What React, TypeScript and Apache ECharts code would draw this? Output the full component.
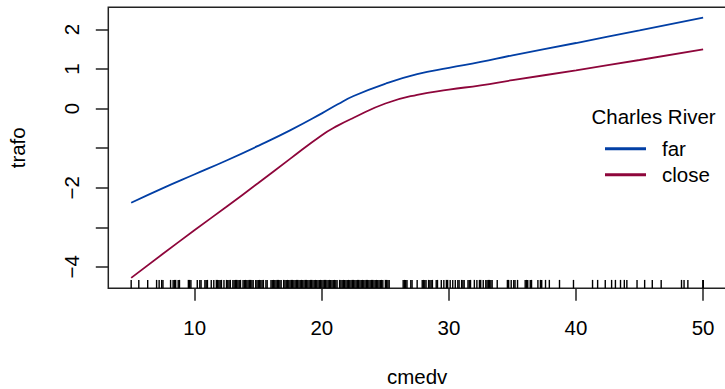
import React, { useEffect, useRef } from "react";
import * as echarts from "echarts";

// cmedv grid where the fitted transformation is evaluated
const xGrid = [5, 7.5, 10, 12.5, 15, 17.5, 20, 21.25, 22.5, 25, 27.5, 30, 32.5, 35, 40, 45, 50];
// trafo for Charles River = far
const farValues = [-2.38, -2.01, -1.66, -1.31, -0.94, -0.55, -0.12, 0.11, 0.32, 0.63, 0.87, 1.03, 1.18, 1.35, 1.66, 1.98, 2.3];
// trafo for Charles River = close
const closeValues = [-4.28, -3.67, -3.07, -2.48, -1.88, -1.27, -0.67, -0.43, -0.23, 0.13, 0.35, 0.48, 0.59, 0.72, 0.97, 1.23, 1.5];

const xTicks = [10, 20, 30, 40, 50];
const yTicks = [-4, -3, -2, -1, 0, 1, 2];
const yTickLabels = [2, 1, 0, -2, -4];

// observed cmedv values (rug)
const rugValues = [
  5.0, 5.6, 6.3, 7.0, 7.2, 7.4, 7.5, 8.1, 8.3, 8.4, 8.5, 8.7, 8.8, 9.5, 9.6, 9.7, 10.2, 10.4, 10.5,
  10.8, 10.9, 11.0, 11.3, 11.5, 11.7, 11.8, 11.9, 12.0, 12.1, 12.3, 12.5, 12.6, 12.7, 12.8, 13.0, 13.1,
  13.2, 13.3, 13.4, 13.5, 13.6, 13.8, 13.9, 14.0, 14.1, 14.2, 14.3, 14.4, 14.5, 14.6, 14.8, 14.9, 15.0,
  15.1, 15.2, 15.3, 15.4, 15.6, 15.7, 16.0, 16.1, 16.2, 16.3, 16.4, 16.5, 16.6, 16.7, 16.8, 17.0, 17.1,
  17.2, 17.3, 17.4, 17.5, 17.6, 17.7, 17.8, 17.9, 18.0, 18.1, 18.2, 18.3, 18.4, 18.5, 18.6, 18.7, 18.8,
  18.9, 19.0, 19.1, 19.2, 19.3, 19.4, 19.5, 19.6, 19.7, 19.8, 19.9, 20.0, 20.1, 20.2, 20.3, 20.4, 20.5,
  20.6, 20.7, 20.8, 20.9, 21.0, 21.1, 21.2, 21.4, 21.5, 21.6, 21.7, 21.8, 21.9, 22.0, 22.1, 22.2, 22.3,
  22.4, 22.5, 22.6, 22.7, 22.8, 22.9, 23.0, 23.1, 23.2, 23.3, 23.4, 23.5, 23.6, 23.7, 23.8, 23.9, 24.0,
  24.1, 24.2, 24.3, 24.4, 24.5, 24.6, 24.7, 24.8, 25.0, 25.1, 25.2, 25.3,
  26.4, 26.5, 26.6, 26.7, 27.0, 27.1, 27.5, 27.9, 28.0, 28.1, 28.2, 28.4, 28.5, 28.6, 28.7, 29.0, 29.1,
  29.4, 29.6, 29.8, 29.9, 30.1, 30.3, 30.5, 30.7, 30.8, 31.0, 31.1, 31.2, 31.5, 31.6, 31.7, 32.0, 32.2,
  32.4, 32.5, 32.7, 32.9, 33.0, 33.1, 33.2, 33.3, 33.4, 33.8, 34.6, 34.7, 34.9, 35.1, 35.2, 35.4, 36.0,
  36.1, 36.2, 36.4, 36.5, 37.0, 37.2, 37.3, 37.6, 37.9, 38.7, 39.8, 41.3, 41.7, 42.3, 42.8, 43.1, 43.5,
  43.8, 44.0, 44.8, 45.4, 46.0, 46.7, 48.3, 48.5, 48.8, 50.0, 50.0, 50.0,
];

const X_MIN = 3.2;
const X_MAX = 51.8;
const Y_MIN = -4.543;
const Y_MAX = 2.563;

const FONT = "'Liberation Sans', Arial, Helvetica, sans-serif";
const FS = 20.5;
const BLUE = "#023FA5";
const RED = "#8E063B";

export default function App() {
  const ref = useRef<HTMLDivElement>(null);

  useEffect(() => {
    document.body.style.margin = "0";
    const chart = echarts.init(ref.current!, null, { renderer: "svg" });
    const fmt = (v: number) => (v < 0 ? "\u2212" + Math.abs(v) : String(v));
    chart.setOption({
      animation: false,
      textStyle: { fontFamily: FONT },
      grid: {
        left: 108.3,
        top: 7.3,
        width: 617.7,
        height: 281,
        show: true,
        borderColor: "#222",
        borderWidth: 1.5,
        backgroundColor: "transparent",
        containLabel: false,
        outerBoundsMode: "none",
      },
      title: {
        text: "Charles River",
        left: 591.5,
        top: 106,
        padding: 0,
        textStyle: { fontSize: FS, fontWeight: "normal", color: "#000", fontFamily: FONT },
      },
      legend: {
        data: ["far", "close"],
        orient: "vertical",
        left: 605,
        top: 138.3,
        padding: 0,
        itemGap: 5,
        icon: "rect",
        itemWidth: 41,
        itemHeight: 3,
        selectedMode: false,
        textStyle: { fontSize: FS, color: "#000", fontFamily: FONT, lineHeight: 20, padding: [0, 0, 0, 11] },
      },
      xAxis: {
        type: "value",
        min: X_MIN,
        max: X_MAX,
        name: "cmedv",
        nameLocation: "middle",
        nameGap: 96.5,
        nameTextStyle: { fontSize: FS, color: "#000", fontFamily: FONT, verticalAlign: "bottom", lineHeight: 16 },
        axisLine: { show: false, onZero: false },
        splitLine: { show: false },
        axisTick: { show: true, length: 12.5, customValues: xTicks, lineStyle: { color: "#222", width: 1.5 } },
        axisLabel: { customValues: xTicks, fontSize: FS, color: "#000", margin: 29, fontFamily: FONT },
      },
      yAxis: {
        type: "value",
        min: Y_MIN,
        max: Y_MAX,
        name: "trafo",
        nameLocation: "middle",
        nameRotate: 90,
        nameGap: 80,
        nameTextStyle: { fontSize: FS, color: "#000", fontFamily: FONT },
        axisLine: { show: false, onZero: false },
        splitLine: { show: false },
        axisTick: { show: true, length: 12.5, customValues: yTicks, lineStyle: { color: "#222", width: 1.5 } },
        axisLabel: {
          customValues: yTickLabels,
          rotate: 90,
          fontSize: FS,
          color: "#000",
          margin: 26,
          fontFamily: FONT,
          formatter: fmt,
        },
      },
      series: [
        {
          name: "far",
          type: "line",
          data: xGrid.map((x, i) => [x, farValues[i]]),
          showSymbol: false,
          smooth: 0.5,
          color: BLUE,
          lineStyle: { color: BLUE, width: 1.8 },
          itemStyle: { color: BLUE },
          silent: true,
        },
        {
          name: "close",
          type: "line",
          data: xGrid.map((x, i) => [x, closeValues[i]]),
          showSymbol: false,
          smooth: 0.5,
          color: RED,
          lineStyle: { color: RED, width: 1.8 },
          itemStyle: { color: RED },
          silent: true,
        },
        {
          name: "rug",
          type: "custom",
          silent: true,
          clip: false,
          data: rugValues.map((v) => [v, Y_MIN]),
          encode: { x: 0, y: 1 },
          renderItem: (params: any, api: any) => {
            const p = api.coord([api.value(0), api.value(1)]);
            return {
              type: "line",
              shape: { x1: p[0], y1: p[1], x2: p[0], y2: p[1] - 8.4 },
              style: { stroke: "#000", lineWidth: 1.4 },
            };
          },
        },
      ],
    });
    return () => chart.dispose();
  }, []);

  return <div ref={ref} style={{ width: 725, height: 389 }} />;
}
